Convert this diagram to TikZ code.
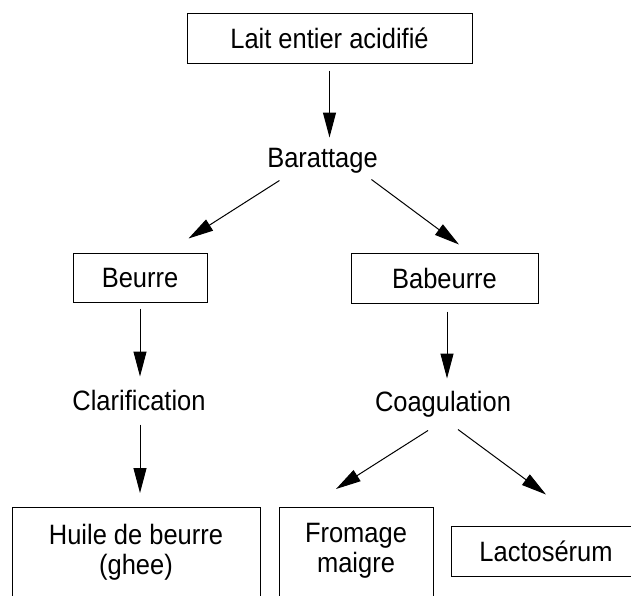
\documentclass[tikz,border=0pt]{standalone}
\usepackage{fontspec}
\setmainfont[FakeStretch=0.91]{Liberation Sans}
\usetikzlibrary{arrows.meta}
\tikzset{
  box/.style={draw, inner sep=0pt, text height=20pt, text depth=0pt},
  word/.style={inner sep=0pt, anchor=base, text height=20pt, text depth=6pt},
  arr/.style={-{Triangle[length=25pt,width=13pt]}}
}
\begin{document}
\begin{tikzpicture}[x=1pt, y=-1pt, line width=1pt, font=\fontsize{28}{30}\selectfont]
    \clip (0,0) rectangle (631,595);
    \node[box, minimum width=285pt, minimum height=50pt] (La) at (329.5, 38) {Lait entier acidifié};
    \node[word] (Bt) at (322.5, 167) {Barattage};
    \node[box, minimum width=134pt, minimum height=49pt] (Be) at (140, 277.5) {Beurre};
    \node[box, minimum width=187pt, minimum height=50pt] (Bb) at (444.5, 278) {Babeurre};
    \node[word] (Cl) at (139, 410) {Clarification};
    \node[word] (Co) at (443, 411) {Coagulation};
    \node[box, anchor=north, minimum width=248pt, text height=37pt, text depth=70pt] (Hu) at (136, 507)
      {\begin{tabular}[t]{@{}c@{}}Huile de beurre\\(ghee)\end{tabular}};
    \node[box, anchor=north, minimum width=154pt, text height=35pt, text depth=70pt] (Fr) at (356, 507)
      {\begin{tabular}[t]{@{}c@{}}Fromage\\maigre\end{tabular}};
    \node[box, minimum width=190pt, minimum height=50pt] (Ls) at (546, 551) {Lactosérum};

    \draw[arr] ([yshift=-7pt]La.south) -- ([yshift=9pt]La.south |- Bt.north);
    \draw[arr] ([xshift=12.7pt,yshift=-7pt]Bt.south west) -- ([xshift=-19pt,yshift=14pt]Be.north east);
    \draw[arr] ([xshift=-6.8pt,yshift=-6pt]Bt.south east) -- ([xshift=14.5pt,yshift=8pt]Bb.north);
    \draw[arr] ([yshift=-6pt]Be.south) -- ([yshift=13pt]Be.south |- Cl.north);
    \draw[arr] ([yshift=-8pt]Be.south |- Cl.south) -- ([yshift=14pt]Be.south |- Hu.north);
    \draw[arr] ([xshift=2.5pt,yshift=-8pt]Bb.south) -- ([xshift=2.5pt,yshift=12pt]Bb.south |- Co.north);
    \draw[arr] ([xshift=-15pt,yshift=-13pt]Co.south) -- ([xshift=-20pt,yshift=18pt]Fr.north);
    \draw[arr] ([xshift=15pt,yshift=-12pt]Co.south) -- ([yshift=31pt]Ls.north);
\end{tikzpicture}
\end{document}
